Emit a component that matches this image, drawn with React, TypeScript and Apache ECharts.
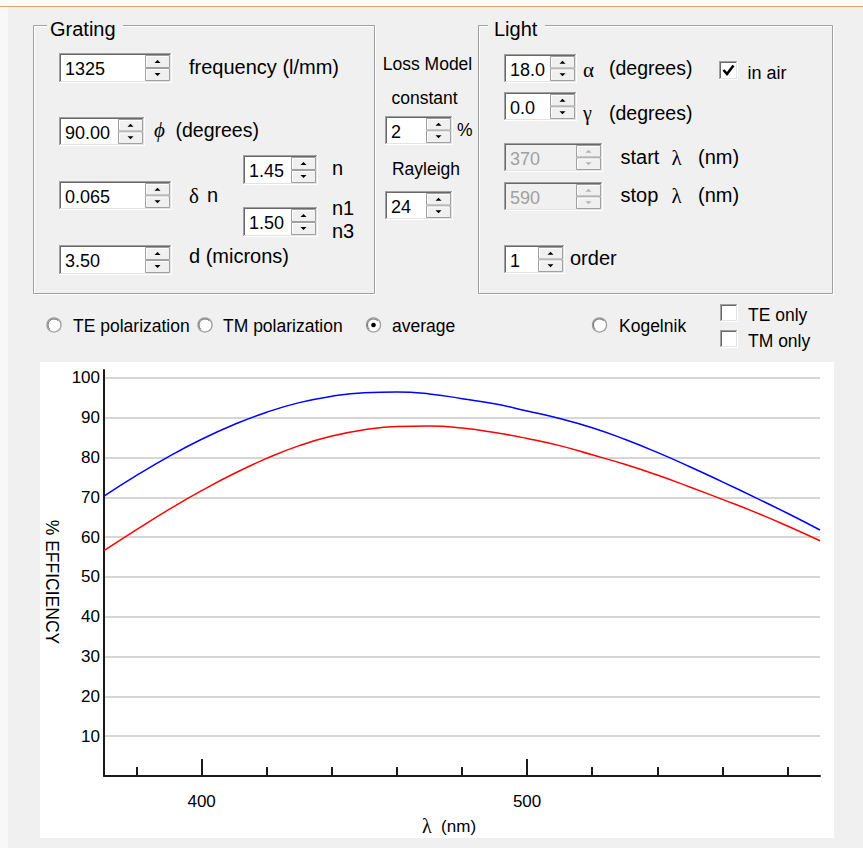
import React, { useEffect, useRef } from "react";
import * as echarts from "echarts";

// ---------- data ----------
const wavelengths = [370, 380, 390, 400, 410, 420, 430, 440, 450, 460, 470, 480, 490, 500, 510, 520, 530, 540, 550, 560, 570, 580, 590];
const blueEfficiency = [70.3, 75.5, 80.3, 84.6, 88.3, 91.4, 93.8, 95.4, 96.3, 96.5, 96.0, 94.8, 93.5, 91.7, 89.8, 87.5, 84.6, 81.3, 77.7, 73.9, 70.0, 66.0, 61.8];
const redEfficiency = [56.6, 61.9, 67.0, 71.7, 76.0, 79.8, 83.0, 85.4, 87.0, 87.8, 87.9, 87.4, 86.3, 84.8, 83.0, 80.7, 78.3, 75.6, 72.6, 69.5, 66.3, 62.8, 59.1];
const yTicks = [10, 20, 30, 40, 50, 60, 70, 80, 90, 100];
const xMajorTicks = [400, 500];
const xMinorTicks = [380, 420, 440, 460, 480, 520, 540, 560, 580];

const FONT = "'Liberation Sans', Arial, sans-serif";
const SERIF = "'Liberation Serif', 'Times New Roman', serif";

// ---------- UI helpers ----------
function ln(x1: number, y1: number, x2: number, y2: number, stroke: string, lineWidth = 1): any {
  return { type: "line", shape: { x1, y1, x2, y2 }, style: { stroke, lineWidth }, silent: true };
}

function txt(x: number, y: number, text: string, size: number, opts: any = {}): any {
  const family = opts.family || FONT;
  const style = opts.italic ? "italic " : "";
  return {
    type: "text",
    x,
    y,
    silent: true,
    style: {
      text,
      fill: opts.fill || "#000000",
      font: `${style}${size}px ${family}`,
      textAlign: opts.align || "left",
      align: opts.align || "left",
      textVerticalAlign: "middle",
      verticalAlign: "middle",
    },
  };
}

function sunken(x: number, y: number, w: number, h: number, fill: string): any[] {
  return [
    { type: "rect", shape: { x, y, width: w, height: h }, style: { fill }, silent: true },
    ln(x, y + 0.5, x + w, y + 0.5, "#a0a0a0"),
    ln(x + 0.5, y, x + 0.5, y + h, "#a0a0a0"),
    ln(x + 1, y + 1.5, x + w - 1, y + 1.5, "#696969"),
    ln(x + 1.5, y + 1, x + 1.5, y + h - 1, "#696969"),
    ln(x, y + h - 0.5, x + w, y + h - 0.5, "#ffffff"),
    ln(x + w - 0.5, y, x + w - 0.5, y + h, "#ffffff"),
    ln(x + 1, y + h - 1.5, x + w - 1, y + h - 1.5, "#e3e3e3"),
    ln(x + w - 1.5, y + 1, x + w - 1.5, y + h - 1, "#e3e3e3"),
  ];
}

function spinBox(x: number, y: number, w: number, h: number, value: string, disabled = false): any[] {
  const els = sunken(x, y, w, h, disabled ? "#f0f0f0" : "#ffffff");
  const spinW = 25;
  const sx = x + w - spinW - 2;
  const sy = y + 2;
  const sh = (h - 4) / 2;
  const arrow = disabled ? "#b4b4b4" : "#000000";
  for (let i = 0; i < 2; i++) {
    const by = sy + i * sh;
    els.push({ type: "rect", shape: { x: sx + 0.5, y: by + 0.5, width: spinW - 1, height: sh - 1 }, style: { fill: "#f0f0f0", stroke: "#a0a0a0", lineWidth: 1 }, silent: true });
    els.push(ln(sx + 1.5, by + 1.5, sx + spinW - 2, by + 1.5, "#ffffff"));
    els.push(ln(sx + 1.5, by + 1.5, sx + 1.5, by + sh - 2, "#ffffff"));
    const cx = sx + spinW / 2;
    const cy = by + sh / 2;
    const pts = i === 0
      ? [[cx - 3, cy + 1.5], [cx + 3, cy + 1.5], [cx, cy - 1.5]]
      : [[cx - 3, cy - 1.5], [cx + 3, cy - 1.5], [cx, cy + 1.5]];
    els.push({ type: "polygon", shape: { points: pts }, style: { fill: arrow }, silent: true });
  }
  els.push(txt(x + 6, y + h / 2 + 1, value, 18, { fill: disabled ? "#a0a0a0" : "#000000" }));
  return els;
}

function groupBox(x: number, y: number, w: number, h: number, title: string, gapStart: number, gapEnd: number, titleX: number): any[] {
  return [
    { type: "rect", shape: { x: x + 1.5, y: y + 1.5, width: w, height: h }, style: { fill: "none", stroke: "#ffffff", lineWidth: 1 }, silent: true },
    { type: "rect", shape: { x: x + 0.5, y: y + 0.5, width: w, height: h }, style: { fill: "none", stroke: "#a0a0a0", lineWidth: 1 }, silent: true },
    { type: "rect", shape: { x: gapStart, y: y - 3, width: gapEnd - gapStart, height: 7 }, style: { fill: "#f0f0f0" }, silent: true },
    txt(titleX, y + 3.5, title, 20),
  ];
}

function checkBox(x: number, y: number, size: number, checked: boolean): any[] {
  const els = sunken(x, y, size, size, "#ffffff");
  if (checked) {
    els.push({
      type: "polyline",
      shape: { points: [[x + 4.5, y + 9], [x + 8, y + 13], [x + 14.5, y + 4.5]] },
      style: { stroke: "#000000", lineWidth: 2.6, fill: "none" },
      silent: true,
    });
  }
  return els;
}

function radio(cx: number, cy: number, selected: boolean): any[] {
  const els: any[] = [
    { type: "circle", shape: { cx, cy, r: 7 }, style: { fill: "#ffffff", stroke: "#9a9a9a", lineWidth: 1.3 }, silent: true },
    { type: "arc", shape: { cx, cy, r: 6, startAngle: Math.PI * 0.75, endAngle: Math.PI * 1.75 }, style: { stroke: "#6e6e6e", lineWidth: 1, fill: "none" }, silent: true },
  ];
  if (selected) {
    els.push({ type: "circle", shape: { cx, cy, r: 2.3 }, style: { fill: "#000000" }, silent: true });
  }
  return els;
}

function buildGraphics(): any[] {
  const g: any[] = [];
  // page background details
  g.push({ type: "rect", z: -200, shape: { x: 0, y: 0, width: 863, height: 6 }, style: { fill: "#fbfbfb" }, silent: true });
  g.push({ type: "rect", z: -200, shape: { x: 0, y: 6, width: 8, height: 842 }, style: { fill: "#f8f8f8" }, silent: true });
  g.push({ ...ln(0, 6.5, 863, 6.5, "#e2a566", 1.2), z: -150 });
  // white plot panel
  g.push({ type: "rect", z: -100, shape: { x: 40, y: 362, width: 794, height: 476 }, style: { fill: "#ffffff" }, silent: true });

  // Grating group
  g.push(...groupBox(33, 25, 341, 268, "Grating", 47, 123, 50));
  g.push(...spinBox(59, 53, 113, 30, "1325"));
  g.push(txt(189, 67, "frequency (l/mm)", 20));
  g.push(...spinBox(59, 117, 86, 29, "90.00"));
  g.push(txt(154, 130, "\u03D5", 21, { family: SERIF, italic: true }));
  g.push(txt(175.5, 130, "(degrees)", 19.5));
  g.push(...spinBox(59, 181, 113, 29, "0.065"));
  g.push(txt(189, 196, "\u03B4", 21, { family: SERIF }));
  g.push(txt(207, 195, "n", 20));
  g.push(...spinBox(243, 155, 75, 30, "1.45"));
  g.push(txt(332, 168, "n", 20));
  g.push(...spinBox(243, 207, 75, 30, "1.50"));
  g.push(txt(332, 208, "n1", 20));
  g.push(txt(332, 231, "n3", 20));
  g.push(...spinBox(59, 245, 113, 30, "3.50"));
  g.push(txt(189, 256, "d (microns)", 20));

  // Loss model column
  g.push(txt(427.5, 64, "Loss Model", 17.5, { align: "center" }));
  g.push(txt(424.5, 98, "constant", 17.5, { align: "center" }));
  g.push(...spinBox(385, 116, 68, 29, "2"));
  g.push(txt(457, 130, "%", 17.5));
  g.push(txt(426, 169, "Rayleigh", 17.5, { align: "center" }));
  g.push(...spinBox(385, 191, 68, 29, "24"));

  // Light group
  g.push(...groupBox(478, 25, 354, 268, "Light", 488, 545, 494));
  g.push(...spinBox(504, 54, 73, 29, "18.0"));
  g.push(txt(583, 70, "\u03B1", 21, { family: SERIF }));
  g.push(txt(609, 68, "(degrees)", 19.5));
  g.push(...checkBox(719, 61, 19, true));
  g.push(txt(747.5, 72.5, "in air", 18));
  g.push(...spinBox(504, 92, 73, 29, "0.0"));
  g.push(txt(583, 113, "\u03B3", 20, { family: SERIF }));
  g.push(txt(609, 113, "(degrees)", 19.5));
  g.push(...spinBox(504, 143, 99, 29, "370", true));
  g.push(txt(620.5, 156.5, "start", 20));
  g.push(txt(671.5, 157.5, "\u03BB", 21, { family: SERIF }));
  g.push(txt(698, 156.5, "(nm)", 20));
  g.push(...spinBox(504, 182, 99, 29, "590", true));
  g.push(txt(620.5, 195, "stop", 20));
  g.push(txt(671.5, 196, "\u03BB", 21, { family: SERIF }));
  g.push(txt(698, 195, "(nm)", 20));
  g.push(...spinBox(504, 245, 61, 29, "1"));
  g.push(txt(570, 258, "order", 20));

  // Polarization row
  g.push(...radio(54, 325, false));
  g.push(txt(73, 326, "TE polarization", 17.5));
  g.push(...radio(205, 325, false));
  g.push(txt(223, 326, "TM polarization", 17.5));
  g.push(...radio(373.5, 325, true));
  g.push(txt(392, 326, "average", 17.5));
  g.push(...radio(599.5, 325, false));
  g.push(txt(619, 326, "Kogelnik", 17.5));
  g.push(...checkBox(720, 304, 18, false));
  g.push(txt(748, 315, "TE only", 17.5));
  g.push(...checkBox(720, 330, 18, false));
  g.push(txt(748, 341, "TM only", 17.5));
  return g;
}

export default function App() {
  const ref = useRef<HTMLDivElement>(null);

  useEffect(() => {
    document.body.style.margin = "0";
    if (!ref.current) return;
    const chart = echarts.init(ref.current, undefined, { renderer: "svg" });
    const blueData = wavelengths.map((w, i) => [w, blueEfficiency[i]]);
    const redData = wavelengths.map((w, i) => [w, redEfficiency[i]]);

    chart.setOption({
      animation: false,
      backgroundColor: "#f0f0f0",
      textStyle: { fontFamily: FONT },
      graphic: { elements: buildGraphics() },
      grid: { left: 104, right: 43, top: 370, bottom: 72, containLabel: false },
      xAxis: [
        {
          type: "value",
          min: 370,
          max: 590,
          name: "{g|\u03BB}  (nm)",
          nameLocation: "middle",
          nameGap: 40,
          nameTextStyle: {
            fontSize: 17,
            color: "#000",
            fontFamily: FONT,
            padding: [0, 26, 0, 0],
            rich: { g: { fontFamily: SERIF, fontSize: 20, color: "#000" } },
          },
          axisLine: { show: true, onZero: false, lineStyle: { color: "#1a1a1a", width: 2 } },
          axisTick: { show: true, inside: true, length: 17, customValues: xMajorTicks, lineStyle: { color: "#1a1a1a", width: 2 } },
          axisLabel: { show: true, customValues: xMajorTicks, margin: 17, fontSize: 17, color: "#000", fontFamily: FONT },
          splitLine: { show: false },
        },
        {
          type: "value",
          min: 370,
          max: 590,
          position: "bottom",
          axisLine: { show: false },
          axisTick: { show: true, inside: true, length: 9, customValues: xMinorTicks, lineStyle: { color: "#1a1a1a", width: 2 } },
          axisLabel: { show: false },
          splitLine: { show: false },
        },
      ],
      yAxis: {
        type: "value",
        min: 0,
        max: 102,
        name: "% EFFICIENCY",
        nameLocation: "middle",
        nameRotate: -90,
        nameGap: 43,
        nameTextStyle: { fontSize: 17.5, color: "#000", fontFamily: FONT, padding: [0, 0, 0, 18] },
        axisLine: { show: true, onZero: false, lineStyle: { color: "#1a1a1a", width: 2 } },
        axisTick: { show: false, customValues: yTicks },
        axisLabel: { show: true, customValues: yTicks, margin: 4, fontSize: 17, color: "#000", fontFamily: FONT },
        splitLine: { show: true, lineStyle: { color: "#d6d6d6", width: 2 } },
      },
      series: [
        {
          name: "TE",
          type: "line",
          data: blueData,
          smooth: true,
          showSymbol: false,
          lineStyle: { color: "#0000ff", width: 1.5 },
          itemStyle: { color: "#0000ff" },
          z: 5,
        },
        {
          name: "TM",
          type: "line",
          data: redData,
          smooth: true,
          showSymbol: false,
          lineStyle: { color: "#ff0000", width: 1.5 },
          itemStyle: { color: "#ff0000" },
          z: 5,
        },
      ],
    });

    return () => chart.dispose();
  }, []);

  return <div ref={ref} style={{ width: 863, height: 848 }} />;
}
